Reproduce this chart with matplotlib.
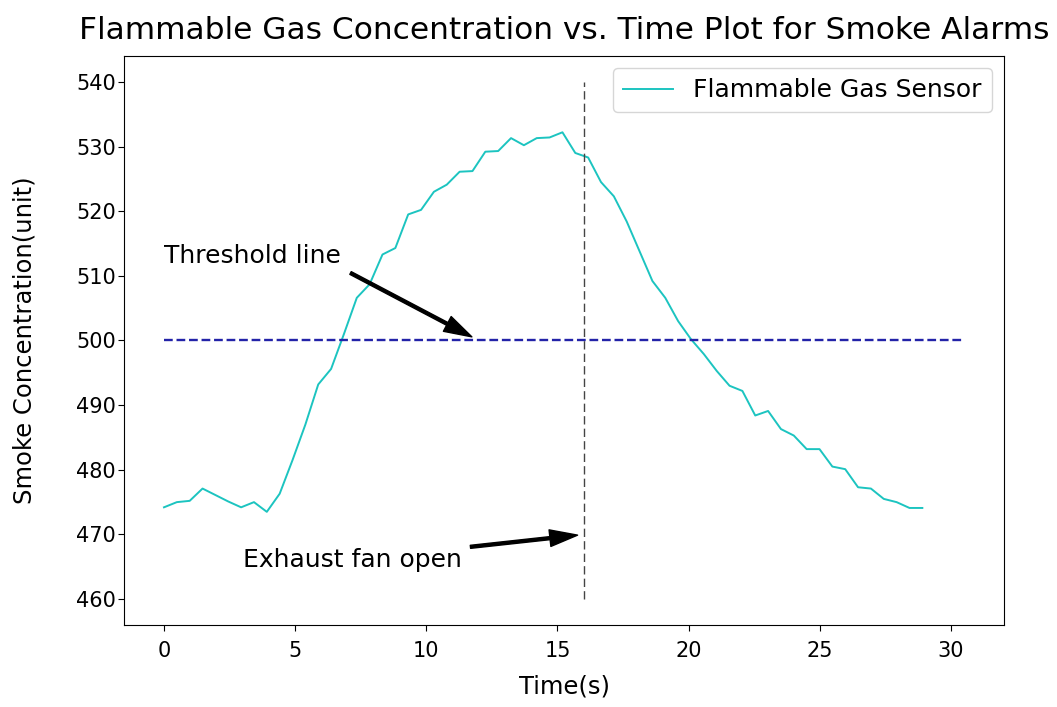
import matplotlib
matplotlib.use("Agg")
import matplotlib.pyplot as plt

# time stamps (s) and sensor readings
time_s = [0.0, 0.49, 0.98, 1.47, 1.96, 2.45, 2.94, 3.43, 3.92, 4.41,
          4.9, 5.39, 5.88, 6.37, 6.86, 7.35, 7.84, 8.33, 8.82, 9.31,
          9.8, 10.29, 10.78, 11.27, 11.76, 12.25, 12.74, 13.23, 13.72, 14.21,
          14.7, 15.19, 15.68, 16.17, 16.66, 17.15, 17.64, 18.13, 18.62, 19.11,
          19.6, 20.09, 20.58, 21.07, 21.56, 22.05, 22.54, 23.03, 23.52, 24.01,
          24.5, 24.99, 25.48, 25.97, 26.46, 26.95, 27.44, 27.93, 28.42, 28.91]
gas = [474.2, 475.0, 475.2, 477.1, 476.1, 475.1, 474.2, 475.0, 473.5, 476.3,
       481.5, 487.0, 493.2, 495.6, 501.0, 506.6, 508.7, 513.3, 514.3, 519.5,
       520.2, 523.0, 524.1, 526.1, 526.2, 529.2, 529.3, 531.3, 530.2, 531.3,
       531.4, 532.2, 529.0, 528.3, 524.5, 522.3, 518.4, 513.8, 509.2, 506.6,
       503.0, 500.2, 497.9, 495.3, 493.0, 492.2, 488.4, 489.1, 486.3, 485.3,
       483.2, 483.2, 480.5, 480.1, 477.3, 477.1, 475.5, 475.0, 474.1, 474.1]

threshold = 500
threshold_span = (0, 30.5)
fan_time = 16
fan_span = (460, 540)

fig = plt.figure(figsize=(10.57, 7.07), dpi=100)
ax = fig.add_axes([0.1173, 0.116, 0.8326, 0.8048])

ax.plot(time_s, gas, color='#1cc4c0', linewidth=1.4, label='Flammable Gas Sensor')
ax.hlines(threshold, threshold_span[0], threshold_span[1], colors='#2323a8',
          linestyles='dashed', linewidth=1.7)
ax.vlines(fan_time, fan_span[0], fan_span[1], colors='#444444',
          linestyles=(0, (6, 3)), linewidth=1.0)

arrow = dict(facecolor='black', shrink=0.05, width=2.2, headwidth=12, headlength=20)
ax.annotate('Threshold line', xy=(12, 500), xytext=(0, 512), fontsize=18, arrowprops=arrow)
ax.annotate('Exhaust fan open', xy=(16, 470), xytext=(3, 465), fontsize=18, arrowprops=arrow)

ax.set_title('Flammable Gas Concentration vs. Time Plot for Smoke Alarms', fontsize=22.5, pad=12)
ax.set_xlabel('Time(s)', fontsize=17.5, labelpad=10)
ax.set_ylabel('Smoke Concentration(unit)', fontsize=17.5, labelpad=28)
ax.tick_params(labelsize=15, length=4.5)
ax.tick_params(axis='x', pad=7)
ax.tick_params(axis='y', pad=1.5)
ax.legend(loc='upper right', fontsize=18)

fig.savefig('out.png', dpi=100)
